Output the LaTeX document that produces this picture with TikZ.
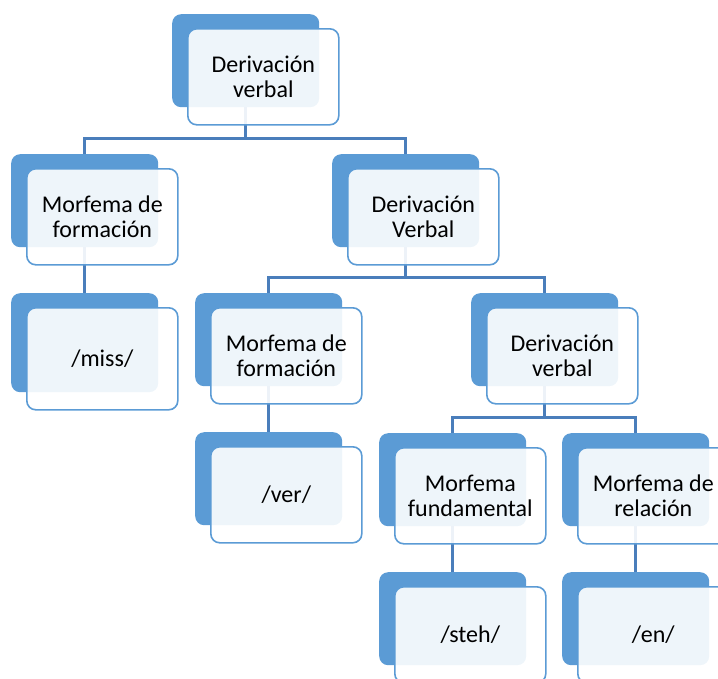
\documentclass[tikz,border=0pt]{standalone}
\usepackage{fontspec}
\setmainfont{Carlito}
\usepackage{tikz}
\usetikzlibrary{positioning}
\definecolor{boxblue}{RGB}{91,155,213}
\definecolor{lineblue}{RGB}{74,126,187}
\tikzstyle{backbox} = [fill=boxblue, draw=none, rounded corners=9pt, minimum width=147pt, minimum height=93pt, anchor=north west, inner sep=0pt]
\tikzstyle{frontbox} = [fill=white, fill opacity=0.9, text opacity=1, draw=boxblue, line width=1.6pt, rounded corners=9pt, minimum width=151pt, minimum height=96pt, anchor=north west, align=center, inner sep=0pt, font=\fontsize{24}{25}\selectfont]
\tikzstyle{conn} = [draw=lineblue, line width=2.6pt]

\begin{document}
\begin{tikzpicture}[x=1pt,y=-1pt]
\useasboundingbox (0,0) rectangle (718,678);
\clip (0,0) rectangle (718,678);

% back boxes
\node[backbox] (d0) at (172,14) {};
\node[backbox] (m1) at (11,154) {};
\node[backbox] (d1) at (332,154) {};
\node[backbox, minimum height=99pt] (miss) at (11,293) {};
\node[backbox] (m2) at (195,293) {};
\node[backbox] (d2) at (471,293) {};
\node[backbox] (ver) at (195,432) {};
\node[backbox] (mf) at (379,433) {};
\node[backbox] (mr) at (562,433) {};
\node[backbox] (steh) at (379,572) {};
\node[backbox] (en) at (562,572) {};

% connectors
\draw[conn] (d0.south) -- ++(0,31) -| (m1.north);
\draw[conn] (d0.south) -- ++(0,31) -| (d1.north);
\draw[conn] (m1.south) -- (miss.north);
\draw[conn] (d1.south) -- ++(0,30) -| (m2.north);
\draw[conn] (d1.south) -- ++(0,30) -| (d2.north);
\draw[conn] (m2.south) -- (ver.north);
\draw[conn] (d2.south) -- ++(0,31) -| (mf.north);
\draw[conn] (d2.south) -- ++(0,31) -| (mr.north);
\draw[conn] (mf.south) -- (steh.north);
\draw[conn] (mr.south) -- (en.north);

% front boxes
\node[frontbox] (d0f) at ([shift={(15,14)}]d0.north west) {Derivación\\verbal};
\node[frontbox] (m1f) at ([shift={(15,14)}]m1.north west) {Morfema de\\formación};
\node[frontbox] (d1f) at ([shift={(15,14)}]d1.north west) {Derivación\\Verbal};
\node[frontbox, minimum height=102pt] (missf) at ([shift={(15,14)}]miss.north west) {/miss/};
\node[frontbox] (m2f) at ([shift={(15,14)}]m2.north west) {Morfema de\\formación};
\node[frontbox] (d2f) at ([shift={(15,14)}]d2.north west) {Derivación\\verbal};
\node[frontbox] (verf) at ([shift={(15,14)}]ver.north west) {/ver/};
\node[frontbox] (mff) at ([shift={(15,14)}]mf.north west) {Morfema\\fundamental};
\node[frontbox] (mrf) at ([shift={(15,14)}]mr.north west) {Morfema de\\relación};
\node[frontbox] (stehf) at ([shift={(15,14)}]steh.north west) {/steh/};
\node[frontbox] (enf) at ([shift={(15,14)}]en.north west) {/en/};
\end{tikzpicture}
\end{document}
